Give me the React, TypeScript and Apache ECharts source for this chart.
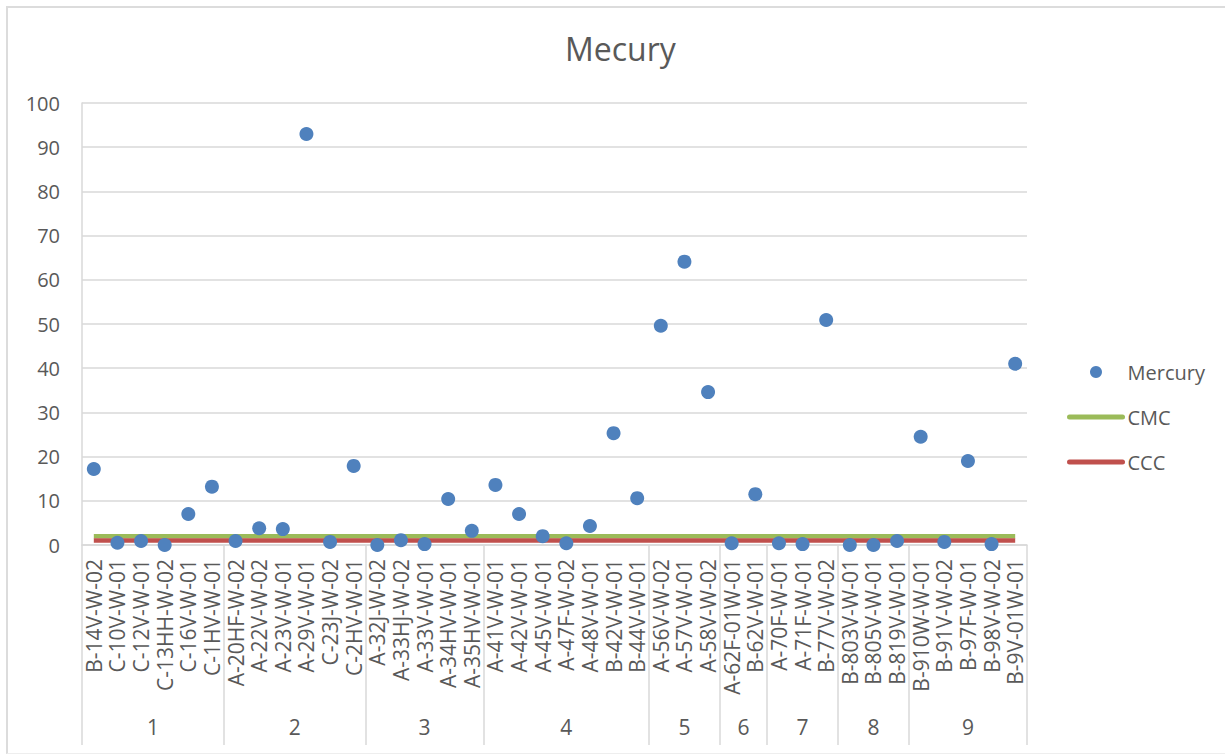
import React, { useEffect, useRef } from "react";
import * as echarts from "echarts";

const categories: string[] = [
  "B-14V-W-02", "C-10V-W-01", "C-12V-W-01", "C-13HH-W-02", "C-16V-W-01", "C-1HV-W-01",
  "A-20HF-W-02", "A-22V-W-02", "A-23V-W-01", "A-29V-W-01", "C-23J-W-02", "C-2HV-W-01",
  "A-32J-W-02", "A-33HJ-W-02", "A-33V-W-01", "A-34HV-W-01", "A-35HV-W-01",
  "A-41V-W-01", "A-42V-W-01", "A-45V-W-01", "A-47F-W-02", "A-48V-W-01", "B-42V-W-01", "B-44V-W-01",
  "A-56V-W-02", "A-57V-W-01", "A-58V-W-02",
  "A-62F-01W-01", "B-62V-W-01",
  "A-70F-W-01", "A-71F-W-01", "B-77V-W-02",
  "B-803V-W-01", "B-805V-W-01", "B-819V-W-01",
  "B-910W-W-01", "B-91V-W-02", "B-97F-W-01", "B-98V-W-02", "B-9V-01W-01",
];

const groupNames: string[] = ["1", "2", "3", "4", "5", "6", "7", "8", "9"];
const groupSizes: number[] = [6, 6, 5, 7, 3, 2, 3, 3, 5];

const mercury: number[] = [
  17.2, 0.5, 0.9, 0, 7.0, 13.2,
  0.9, 3.8, 3.6, 93, 0.7, 17.9,
  0, 1.1, 0.2, 10.4, 3.2,
  13.6, 7.0, 2.0, 0.4, 4.3, 25.3, 10.6,
  49.6, 64.1, 34.6,
  0.4, 11.5,
  0.4, 0.2, 50.9,
  0, 0, 0.9,
  24.5, 0.7, 19, 0.2, 41,
];

const CMC_VALUE = 2;
const CCC_VALUE = 1;

const yTicks = { min: 0, max: 100, interval: 10 };

export default function App() {
  const ref = useRef<HTMLDivElement>(null);

  useEffect(() => {
    if (!ref.current) return;
    const chart = echarts.init(ref.current, undefined, { renderer: "svg" });

    const boundaries: number[] = [0];
    groupSizes.forEach((s) => boundaries.push(boundaries[boundaries.length - 1] + s));
    const centers: number[] = groupSizes.map((s, i) => boundaries[i] + s / 2);

    const font = "'Open Sans', sans-serif";
    const textColor = "#595959";
    const gridColor = "#d9d9d9";
    const first = categories[0];
    const last = categories[categories.length - 1];

    chart.setOption({
      animation: false,
      backgroundColor: "transparent",
      title: {
        text: "Mecury",
        left: 560,
        top: 27,
        textStyle: { fontFamily: font, fontSize: 32, fontWeight: "normal", color: textColor },
      },
      legend: {
        orient: "vertical",
        left: 1062,
        top: 357,
        itemWidth: 53,
        itemHeight: 12,
        itemGap: 25,
        textStyle: { fontFamily: font, fontSize: 20, color: textColor },
        data: [
          { name: "Mercury", icon: "circle" },
          { name: "CMC", itemStyle: { opacity: 0 }, lineStyle: { width: 5, color: "#9BBB59", cap: "round" } },
          { name: "CCC", itemStyle: { opacity: 0 }, lineStyle: { width: 5, color: "#C0504D", cap: "round" } },
        ],
      },
      grid: { left: 82, right: 198, top: 103, bottom: 210, containLabel: false },
      xAxis: [
        {
          type: "category",
          data: categories,
          boundaryGap: true,
          axisLine: { show: true, lineStyle: { color: gridColor, width: 1.5 } },
          axisTick: { show: false },
          axisLabel: {
            interval: 0,
            rotate: 90,
            margin: 14,
            fontFamily: font,
            fontSize: 21,
            color: textColor,
          },
          splitLine: { show: false },
        },
        {
          type: "value",
          gridIndex: 0,
          position: "bottom",
          min: 0,
          max: categories.length,
          axisLine: { show: false },
          splitLine: { show: false },
          axisTick: {
            show: true,
            customValues: boundaries,
            length: 200,
            lineStyle: { color: gridColor, width: 1.5 },
          },
          axisLabel: {
            customValues: centers,
            margin: 171,
            fontFamily: font,
            fontSize: 21,
            color: textColor,
            formatter: (v: number) => {
              const idx = centers.findIndex((c) => Math.abs(c - v) < 1e-6);
              return idx >= 0 ? groupNames[idx] : "";
            },
          },
        },
      ],
      yAxis: {
        type: "value",
        min: yTicks.min,
        max: yTicks.max,
        interval: yTicks.interval,
        axisLine: { show: true, lineStyle: { color: gridColor, width: 1.5 } },
        axisTick: { show: false },
        axisLabel: { margin: 22, fontFamily: font, fontSize: 20, color: textColor },
        splitLine: { show: true, lineStyle: { color: gridColor, width: 1.5 } },
      },
      series: [
        {
          name: "CMC",
          type: "line",
          xAxisIndex: 0,
          symbol: "none",
          z: 2,
          lineStyle: { color: "#9BBB59", width: 4.5 },
          itemStyle: { color: "#9BBB59" },
          data: [[first, CMC_VALUE], [last, CMC_VALUE]],
        },
        {
          name: "CCC",
          type: "line",
          xAxisIndex: 0,
          symbol: "none",
          z: 3,
          lineStyle: { color: "#C0504D", width: 4.5 },
          itemStyle: { color: "#C0504D" },
          data: [[first, CCC_VALUE], [last, CCC_VALUE]],
        },
        {
          name: "Mercury",
          type: "scatter",
          xAxisIndex: 0,
          z: 5,
          symbol: "circle",
          symbolSize: 14,
          itemStyle: { color: "#4F81BD", opacity: 1 },
          data: mercury,
        },
      ],
    });

    return () => chart.dispose();
  }, []);

  return (
    <div style={{ position: "fixed", left: 0, top: 0, width: 1225, height: 755, overflow: "hidden", background: "#fff" }}>
      <div
        style={{
          position: "absolute",
          left: 6,
          top: 6,
          width: 1230,
          height: 745,
          borderLeft: "2px solid #dcdcdc",
          borderTop: "2px solid #dcdcdc",
          borderBottom: "1px solid #eeeeee",
        }}
      />
      <div ref={ref} style={{ position: "absolute", left: 0, top: 0, width: 1225, height: 755 }} />
    </div>
  );
}
